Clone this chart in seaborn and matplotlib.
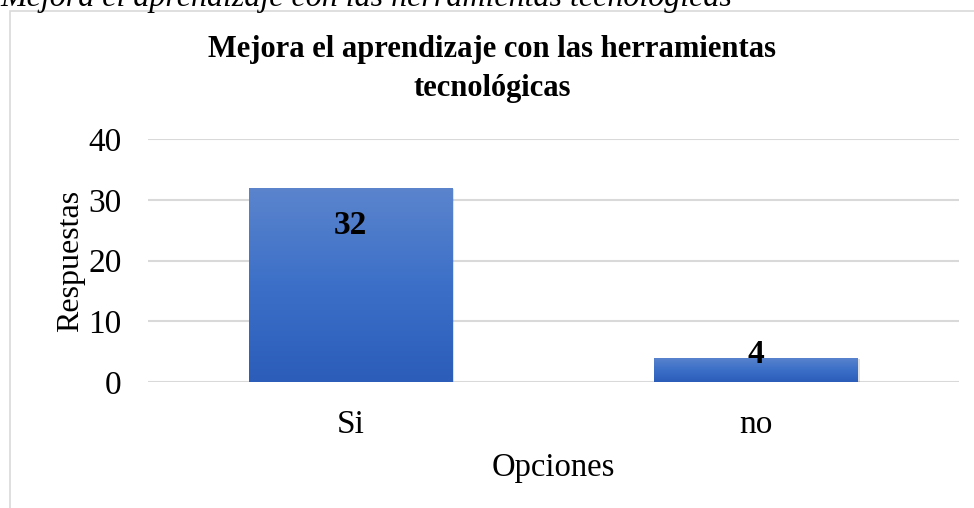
import numpy as np
import pandas as pd
import matplotlib.pyplot as plt
import seaborn as sns
from matplotlib.colors import LinearSegmentedColormap
from matplotlib.patches import Rectangle

# data
opciones = ['Si', 'no']
respuestas = [32, 4]
titulo = 'Mejora el aprendizaje con las herramientas\ntecnológicas'
caption = 'Mejora el aprendizaje con las herramientas tecnológicas'

sns.set_style('white')
plt.rcParams['font.family'] = ['Liberation Serif', 'DejaVu Serif']
plt.rcParams['text.color'] = 'black'
plt.rcParams['axes.labelcolor'] = 'black'
plt.rcParams['xtick.color'] = 'black'
plt.rcParams['ytick.color'] = 'black'

df = pd.DataFrame({'Opciones': opciones, 'Respuestas': respuestas})

fig = plt.figure(figsize=(9.74, 5.08), dpi=100, facecolor='white')
ax = fig.add_axes([0.152, 0.248, 0.8326, 0.478])

# chart border (left + top lines)
fig.add_artist(Rectangle((10 / 974, -0.1), 1.2, 1 - 11 / 508 + 0.1, transform=fig.transFigure,
                         fill=False, edgecolor='#D9D9D9', linewidth=1.2))

sns.barplot(data=df, x='Opciones', y='Respuestas', ax=ax, width=0.503,
            color='#3A6BC4', saturation=1, zorder=3)

ax.set_ylim(0, 40)
ax.set_yticks([0, 10, 20, 30, 40])
ax.grid(axis='y', color='#D9D9D9', linewidth=1.5, zorder=0)
for s in ax.spines.values():
    s.set_visible(False)
ax.tick_params(axis='both', length=0, labelsize=24)
ax.tick_params(axis='y', pad=19)
ax.tick_params(axis='x', pad=20)

# gradient fill on bars
cmap = LinearSegmentedColormap.from_list('g', ['#2B5DB9', '#3C70C8', '#5B84CD'])
grad = np.linspace(0, 1, 256).reshape(-1, 1)
for p in ax.patches:
    x0, y0 = p.get_x(), p.get_y()
    w, h = p.get_width(), p.get_height()
    # soft shadow
    sh = Rectangle((x0 + 0.004, y0 - 0.25), w, h, facecolor='#000000', alpha=0.12,
                   edgecolor='none', zorder=2)
    ax.add_patch(sh)
    p.set_edgecolor('none')
    im = ax.imshow(grad, extent=[x0, x0 + w, y0, y0 + h], origin='lower', aspect='auto',
                   cmap=cmap, zorder=4)
    im.set_clip_path(p)

ax.set_xlim(-0.5, 1.5)
ax.set_ylim(0, 40)

# value labels
for i, v in enumerate(respuestas):
    if v > 10:
        ax.annotate(str(v), (i, v), xytext=(0, -38), textcoords='offset points',
                    ha='center', va='bottom', fontsize=24, fontweight='bold', zorder=6)
    else:
        ax.annotate(str(v), (i, v), xytext=(0, -8.5), textcoords='offset points',
                    ha='center', va='bottom', fontsize=24, fontweight='bold', zorder=6)

ax.set_xlabel('Opciones', fontsize=23.5, labelpad=9)
ax.set_ylabel('Respuestas', fontsize=23, labelpad=2)

fig.text(0.505, 1 - 69 / 508, titulo, ha='center', va='center', fontsize=22,
         fontweight='bold', linespacing=1.45)
fig.text(0.0, 1 - 6 / 508, caption, ha='left', va='baseline', fontsize=23, style='italic')

fig.savefig('out.png', dpi=100, facecolor='white')
